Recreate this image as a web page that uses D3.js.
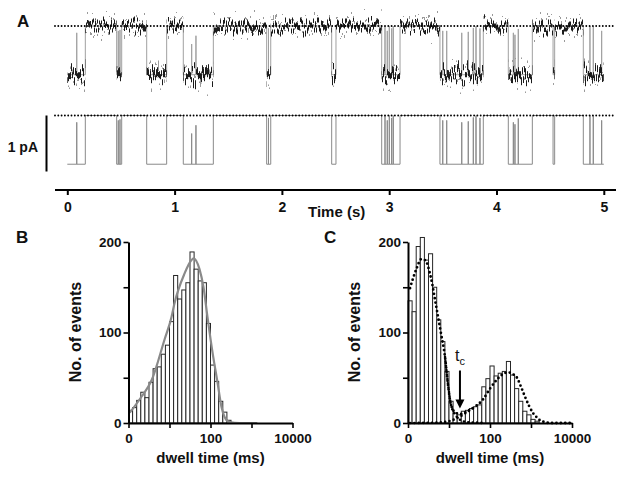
<!DOCTYPE html>
<html>
<head>
<meta charset="utf-8">
<script src="https://cdn.jsdelivr.net/npm/d3@7"></script>
<style>
  body { margin: 0; background: #fff; }
  svg text { font-family: "Liberation Sans", Arial, sans-serif; fill: #111; }
</style>
</head>
<body>
<script>

// ---- panel A data ----
const timeTicks = [0, 1, 2, 3, 4, 5];

// dwells in the lower current level, in seconds
const lowerDwells = [
  [0.000, 0.168], [0.460, 0.507], [0.740, 0.926], [1.081, 1.361], [1.858, 1.896],
  [2.464, 2.504], [2.930, 3.101], [3.473, 3.877], [4.110, 4.334], [4.527, 4.542],
  [4.809, 5.000]
];

// brief returns toward the upper level inside lower dwells: [time (s), fraction of amplitude]
const briefSpikes = [
  [0.088, 0.86], [0.475, 0.90], [0.491, 0.92], [1.159, 0.63], [1.199, 0.80],
  [1.875, 0.95], [2.961, 1.00], [2.982, 0.90], [3.001, 1.00], [3.023, 0.95],
  [3.038, 1.00], [3.499, 0.90], [3.536, 0.90], [3.676, 0.86], [3.737, 0.88],
  [3.784, 0.96], [3.809, 1.00], [3.846, 0.95], [4.157, 0.86], [4.172, 0.82],
  [4.203, 0.94], [4.871, 1.00], [4.902, 1.00], [4.980, 0.90]
];

// current levels in pA, measured from the foot of the 1 pA scale bar
const lowerPA = 0.13;
const upperPA = 1.0;

// ---- panel B / C data ----
const binDecades = 0.1;   // histogram bin width on the log axis
const countsB = [14, 17, 25, 34, 28, 45, 60, 62, 76, 86, 112, 163, 137, 147, 155,
                 189, 170, 157, 155, 110, 64, 46, 24, 12, 3];
const countsC = [135, 123, 195, 205, 180, 187, 150, 114, 90, 57, 24, 11, 9, 13, 14,
                 16, 18, 20, 40, 49, 63, 52, 55, 57, 68, 53, 38, 24, 13, 9, 4, 2];

// fitted curves: [dwell time (ms), events]
const fitB = [[1.1, 12], [2.07, 29], [3.64, 47], [7.55, 92], [11.2, 117], [13.2, 132],
              [23.2, 165], [34.4, 180], [38.5, 182], [53.9, 170], [67.5, 150], [84.5, 117],
              [112, 78], [148, 45], [185, 18], [219, 7], [291, 1], [510, 0], [1320, 0]];
const fitC = [[1.12, 149], [1.66, 172], [2.08, 181], [2.6, 180], [3.64, 160], [4.82, 130],
              [6.38, 99], [7.99, 73], [9.46, 42], [11.2, 20], [14.8, 11], [19.6, 10],
              [27.5, 13], [43.1, 18], [67.5, 26], [100, 38], [148, 48], [207, 54], [275, 56],
              [364, 54], [456, 50], [570, 40], [714, 29], [893, 19], [1120, 11], [1400, 6],
              [1660, 3], [2190, 1], [2900, 0], [10000, 0]];
const fastC = [[8, 73], [9.5, 42], [11.2, 20], [14.8, 8], [19.6, 3], [27.5, 1], [43, 0.5], [70, 0]];
const slowC = [[1.12, 0], [5, 0.5], [10, 2], [15, 5], [20, 8], [27.5, 12], [43, 18]];
const tcMs = 18.5;

const dwellTicks = [1, 10, 100, 1000, 10000];
const dwellTickLabels = ['0', '', '100', '', '10000'];
const countTicks = [0, 50, 100, 150, 200];
const countTickLabels = ['0', '', '100', '', '200'];


const svg = d3.select('body').append('svg')
    .attr('width', 624)
    .attr('height', 477);

const defs = svg.append('defs');

// recording noise is drawn as a texture: vertical jitter of a thick level line
function noiseFilter(id, freq, scale, seed) {
    const f = defs.append('filter')
        .attr('id', id)
        .attr('filterUnits', 'userSpaceOnUse')
        .attr('x', 40).attr('y', 0)
        .attr('width', 590).attr('height', 105)
        .attr('color-interpolation-filters', 'sRGB');
    f.append('feTurbulence')
        .attr('type', 'fractalNoise')
        .attr('baseFrequency', freq)
        .attr('numOctaves', 2)
        .attr('seed', seed)
        .attr('result', 'noise');
    f.append('feColorMatrix')
        .attr('in', 'noise')
        .attr('type', 'matrix')
        .attr('values', '0 0 0 0 0.5  0 1 0 0 0  0 0 0 0 0  0 0 0 0 1')
        .attr('result', 'map');
    f.append('feDisplacementMap')
        .attr('in', 'SourceGraphic')
        .attr('in2', 'map')
        .attr('scale', scale)
        .attr('xChannelSelector', 'R')
        .attr('yChannelSelector', 'G');
}
noiseFilter('noiseUp', '0.9 0.012', 30, 4);
noiseFilter('noiseLow', '0.9 0.012', 42, 9);
noiseFilter('fringeUp', '0.7 0.02', 56, 13);
noiseFilter('fringeLow', '0.7 0.02', 70, 21);


// ---------------- panel A ----------------
const xT = d3.scaleLinear().domain([0, 5]).range([67.3, 603.8]);
const yRaw = d3.scaleLinear().domain([0, 1]).range([82, 26]);
const yIdeal = d3.scaleLinear().domain([0, 1]).range([171.5, 115.5]);

function stepPoints() {
    const pts = [];
    let t0 = 0;
    lowerDwells.forEach(([a, b]) => {
        if (a > t0) pts.push([t0, upperPA], [a, upperPA]);
        pts.push([a, lowerPA]);
        briefSpikes.filter(s => s[0] > a && s[0] < b).forEach(([t, f]) => {
            pts.push([t, lowerPA], [t, lowerPA + f * (upperPA - lowerPA)], [t, lowerPA]);
        });
        pts.push([b, lowerPA]);
        t0 = b;
    });
    if (t0 < 5) pts.push([t0, upperPA], [5, upperPA]);
    return pts;
}
const steps = stepPoints();

// upper-level stretches between the lower dwells
const upperStretches = [];
lowerDwells.forEach(([a, b], i) => {
    const next = lowerDwells[i + 1];
    if (next && next[0] > b) upperStretches.push([b, next[0]]);
});

// raw trace: transitions in light grey, noisy levels on top
svg.append('path')
    .datum(steps)
    .attr('d', d3.line().x(d => xT(d[0])).y(d => yRaw(d[1])))
    .attr('fill', 'none')
    .attr('stroke', '#a0a0a0')
    .attr('stroke-width', 1);

function noisyLevel(segments, level, filterId, color, width) {
    svg.append('g')
        .attr('filter', `url(#${filterId})`)
        .selectAll('line')
        .data(segments)
        .join('line')
        .attr('x1', d => xT(d[0])).attr('x2', d => xT(d[1]))
        .attr('y1', yRaw(level)).attr('y2', yRaw(level))
        .attr('stroke', color)
        .attr('stroke-width', width);
}
noisyLevel(upperStretches, upperPA, 'fringeUp', '#9a9a9a', 2);
noisyLevel(lowerDwells, lowerPA, 'fringeLow', '#9a9a9a', 2.5);
noisyLevel(upperStretches, upperPA, 'noiseUp', '#1c1c1c', 5);
noisyLevel(lowerDwells, lowerPA, 'noiseLow', '#1c1c1c', 7);

// idealised trace
svg.append('path')
    .datum(steps)
    .attr('d', d3.line().x(d => xT(d[0])).y(d => yIdeal(d[1])))
    .attr('fill', 'none')
    .attr('stroke', '#8a8a8a')
    .attr('stroke-width', 1);

// dotted reference lines at the upper level
[[yRaw(upperPA), 613], [yIdeal(upperPA), 615]].forEach(([y, x2]) => {
    svg.append('line')
        .attr('x1', 55).attr('x2', x2)
        .attr('y1', y).attr('y2', y)
        .attr('stroke', '#000')
        .attr('stroke-width', 1.9)
        .attr('stroke-linecap', 'round')
        .attr('stroke-dasharray', '0,3.3');
});

// 1 pA scale bar
svg.append('line')
    .attr('x1', 46.5).attr('x2', 46.5)
    .attr('y1', yIdeal(0)).attr('y2', yIdeal(1))
    .attr('stroke', '#000')
    .attr('stroke-width', 2);
svg.append('text')
    .attr('x', 38).attr('y', 152)
    .attr('text-anchor', 'end')
    .style('font-size', '14px')
    .style('font-weight', 'bold')
    .text('1 pA');

// time axis
svg.append('line')
    .attr('x1', 55).attr('x2', 616)
    .attr('y1', 190).attr('y2', 190)
    .attr('stroke', '#000')
    .attr('stroke-width', 2);
const timeAxis = svg.append('g')
    .attr('transform', 'translate(0,190)')
    .call(d3.axisBottom(xT).tickValues(timeTicks).tickFormat(d3.format('d'))
        .tickSize(5).tickPadding(7));
timeAxis.select('.domain').remove();
timeAxis.selectAll('line').attr('stroke', '#000').attr('stroke-width', 2);
timeAxis.selectAll('text')
    .style('font-size', '14px')
    .style('font-weight', 'bold')
    .style('font-family', '"Liberation Sans", Arial, sans-serif')
    .attr('fill', '#111');
svg.append('text')
    .attr('x', 308).attr('y', 217)
    .style('font-size', '15px')
    .style('font-weight', 'bold')
    .text('Time (s)');

svg.append('text')
    .attr('x', 17).attr('y', 27)
    .style('font-size', '17px')
    .style('font-weight', 'bold')
    .text('A');


// ---------------- panels B and C ----------------
function histPanel(opt) {
    const x = d3.scaleLog().domain([1, 10000]).range([opt.left, opt.left + 164]);
    const y = d3.scaleLinear().domain([0, 200]).range([423, 242]);
    const g = svg.append('g');

    g.selectAll('rect')
        .data(opt.counts)
        .join('rect')
        .attr('x', (d, i) => x(Math.pow(10, i * binDecades)))
        .attr('width', (d, i) => x(Math.pow(10, (i + 1) * binDecades)) - x(Math.pow(10, i * binDecades)))
        .attr('y', d => y(d))
        .attr('height', d => y(0) - y(d))
        .attr('fill', '#fff')
        .attr('stroke', '#262626')
        .attr('stroke-width', 1);

    opt.curves.forEach(c => {
        g.append('path')
            .datum(c.points)
            .attr('d', d3.line().curve(d3.curveMonotoneX).x(d => x(d[0])).y(d => y(d[1])))
            .attr('fill', 'none')
            .attr('stroke', c.color)
            .attr('stroke-width', c.width)
            .attr('stroke-linecap', 'round')
            .attr('stroke-dasharray', c.dash || null);
    });

    const xAxis = g.append('g')
        .attr('transform', 'translate(0,423)')
        .call(d3.axisBottom(x).tickValues(dwellTicks)
            .tickFormat((d, i) => dwellTickLabels[i]).tickSize(5).tickSizeOuter(0).tickPadding(5));
    const yAxis = g.append('g')
        .attr('transform', `translate(${opt.left},0)`)
        .call(d3.axisLeft(y).tickValues(countTicks)
            .tickFormat((d, i) => countTickLabels[i]).tickSize(5).tickSizeOuter(0).tickPadding(2));
    [xAxis, yAxis].forEach(a => {
        a.select('.domain').attr('stroke', '#000').attr('stroke-width', 2);
        a.selectAll('.tick line').attr('stroke', '#000').attr('stroke-width', 1.6);
        a.selectAll('text')
            .style('font-size', '13.5px')
            .style('font-weight', 'bold')
            .style('font-family', '"Liberation Sans", Arial, sans-serif')
            .attr('fill', '#111');
    });

    g.append('text')
        .attr('x', opt.left + 82).attr('y', 463)
        .attr('text-anchor', 'middle')
        .style('font-size', '15px')
        .style('font-weight', 'bold')
        .text('dwell time (ms)');
    g.append('text')
        .attr('transform', `translate(${opt.left - 48},332) rotate(-90)`)
        .attr('text-anchor', 'middle')
        .style('font-size', '16px')
        .style('font-weight', 'bold')
        .text('No. of events');
    g.append('text')
        .attr('x', opt.letterX).attr('y', 243)
        .style('font-size', '17px')
        .style('font-weight', 'bold')
        .text(opt.letter);

    return { x, y, g };
}

histPanel({
    left: 128.5,
    counts: countsB,
    letter: 'B',
    letterX: 16,
    curves: [{ points: fitB, color: '#8a8a8a', width: 2.2 }]
});

const pc = histPanel({
    left: 408,
    counts: countsC,
    letter: 'C',
    letterX: 324,
    curves: [
        { points: slowC, color: '#000', width: 2.6, dash: '0,4.4' },
        { points: fastC, color: '#000', width: 2.6, dash: '0,4.4' },
        { points: fitC, color: '#000', width: 2.8, dash: '0,4.4' }
    ]
});

// t_c marker
const tcX = pc.x(tcMs);
pc.g.append('line')
    .attr('x1', tcX).attr('x2', tcX)
    .attr('y1', pc.y(58)).attr('y2', pc.y(24))
    .attr('stroke', '#000')
    .attr('stroke-width', 2);
pc.g.append('path')
    .attr('d', `M${tcX - 4.5},${pc.y(26)} L${tcX + 4.5},${pc.y(26)} L${tcX},${pc.y(16)} Z`)
    .attr('fill', '#000');
const tcLabel = pc.g.append('text')
    .attr('x', tcX - 5).attr('y', 361)
    .style('font-size', '16px');
tcLabel.append('tspan').text('t');
tcLabel.append('tspan').attr('dy', 4).style('font-size', '11px').text('c');

</script>
</body>
</html>
